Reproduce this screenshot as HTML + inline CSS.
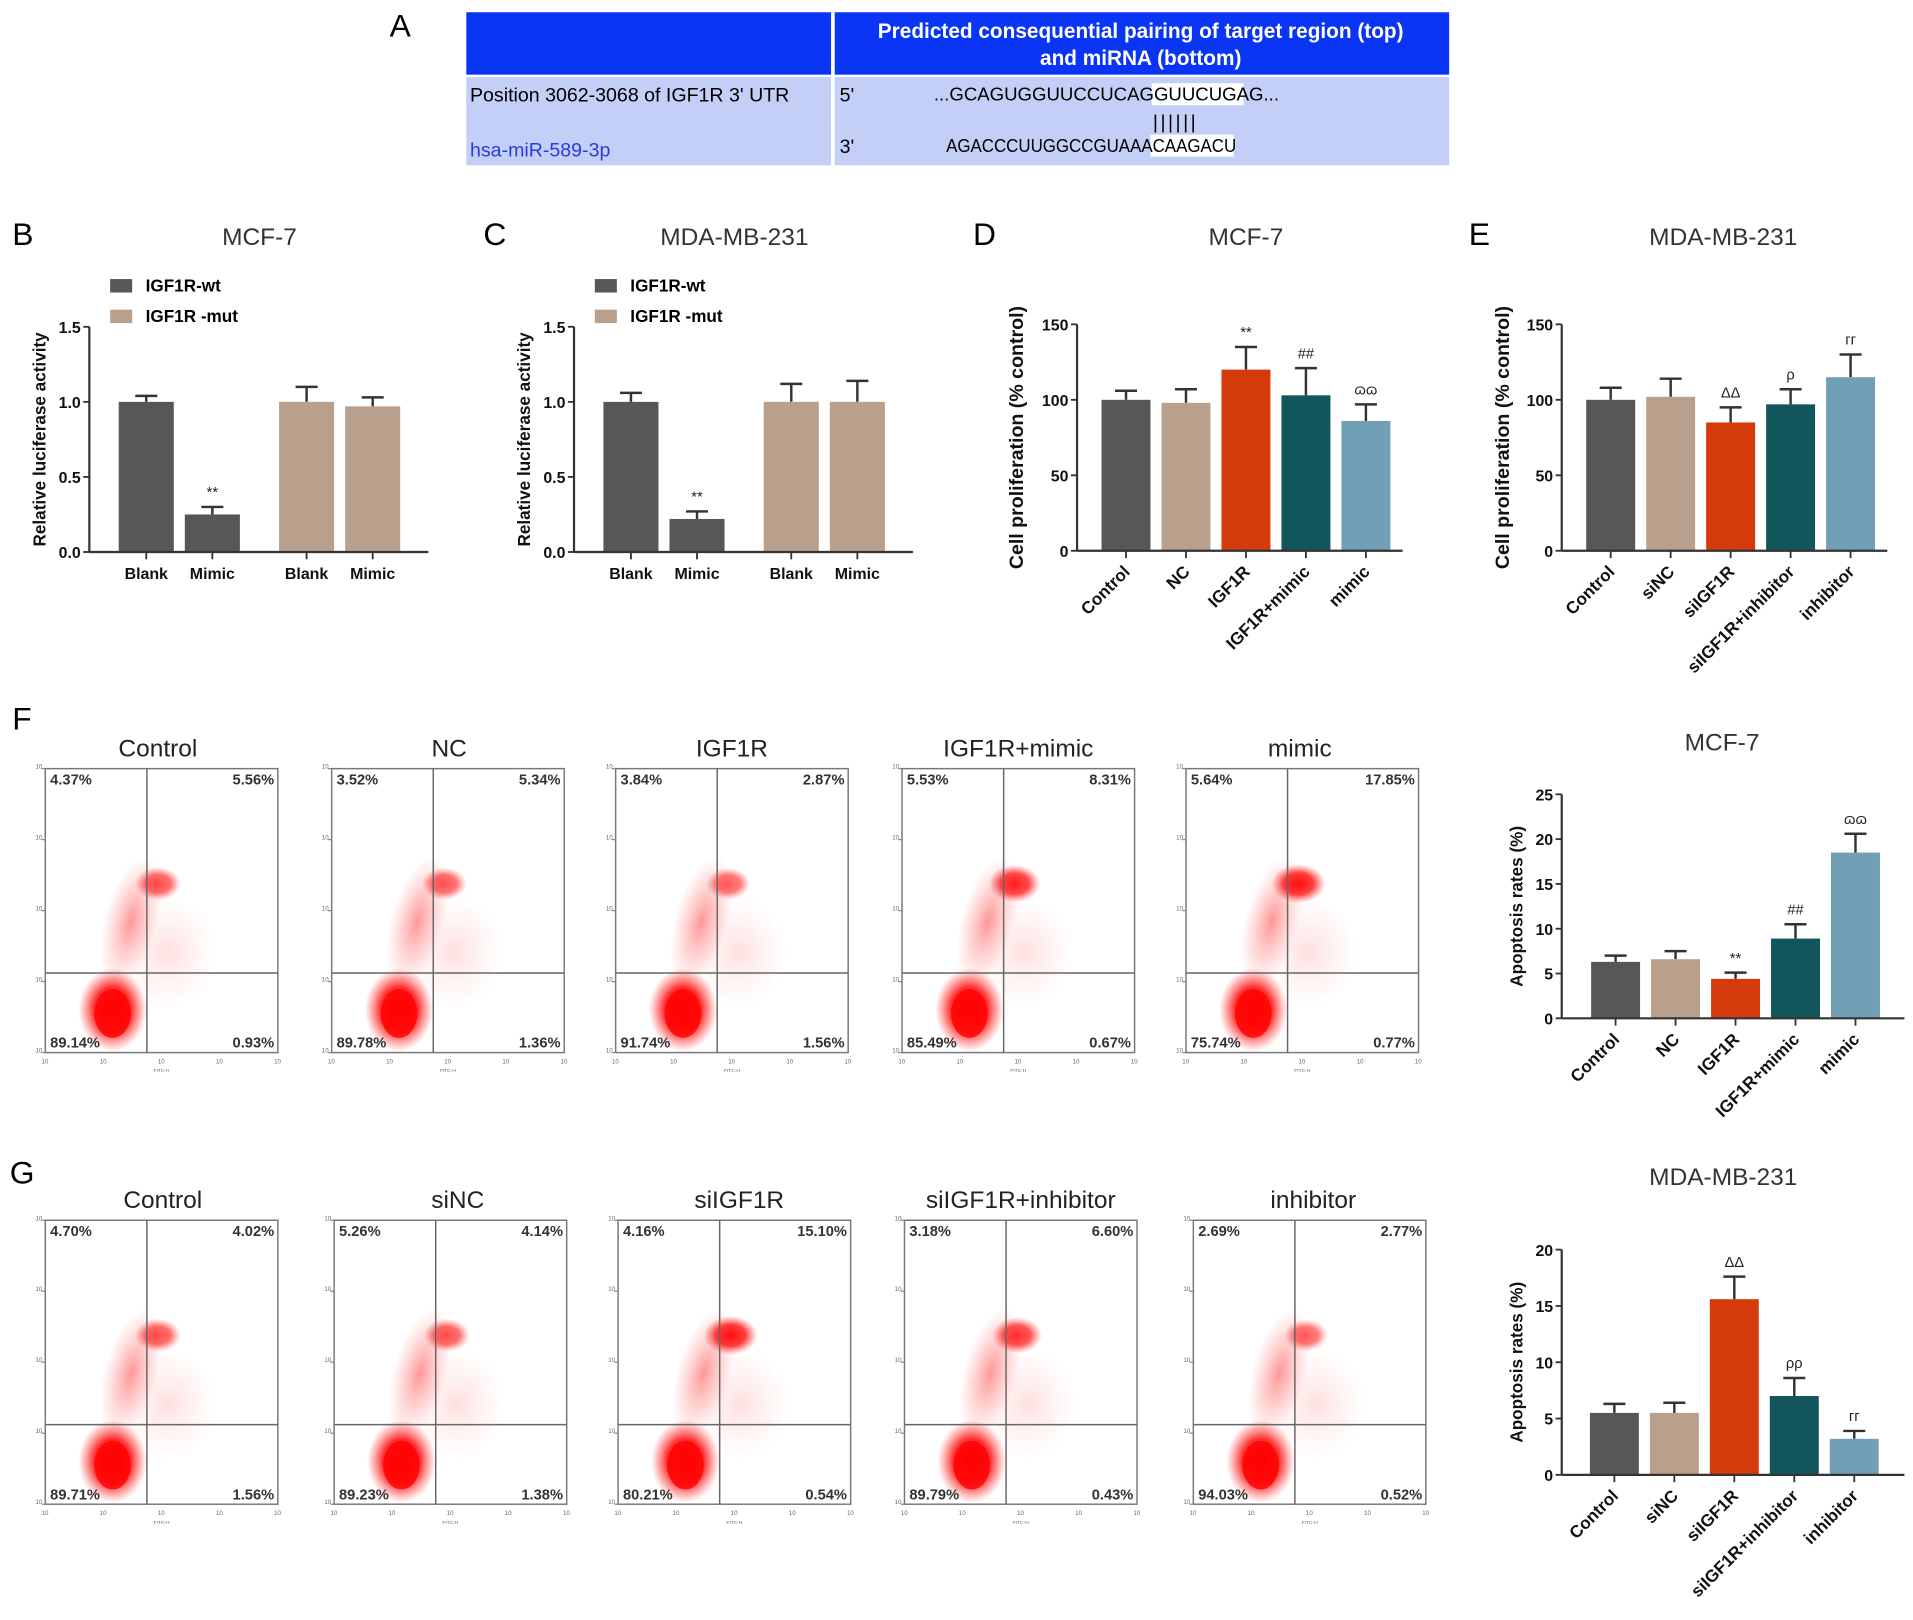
<!DOCTYPE html>
<html><head><meta charset="utf-8"><style>
html,body{margin:0;padding:0;background:#fff;}
svg{display:block;}
text{font-family:"Liberation Sans",Arial,sans-serif;}
</style></head><body>
<svg id="fig" xmlns="http://www.w3.org/2000/svg" width="1913" height="1620" viewBox="0 0 1563 1323.6">
<defs>
<radialGradient id="dotg"><stop offset="0" stop-color="#ff0000" stop-opacity="1"/><stop offset="0.55" stop-color="#ff1010" stop-opacity="0.85"/><stop offset="1" stop-color="#ff4040" stop-opacity="0"/></radialGradient>
<radialGradient id="dotl"><stop offset="0" stop-color="#ff3030" stop-opacity="0.5"/><stop offset="1" stop-color="#ff6060" stop-opacity="0"/></radialGradient>
</defs>
<g>
<text x="327" y="30" font-size="26" text-anchor="middle">A</text>
<rect x="381" y="10" width="803" height="51" fill="#0a35f5"/>
<rect x="381" y="63" width="803" height="72" fill="#c3cff7"/>
<rect x="679" y="10" width="3" height="125" fill="#fff"/>
<text x="932" y="31" font-size="17" font-weight="bold" fill="#fff" text-anchor="middle">Predicted consequential pairing of target region (top)</text>
<text x="932" y="53" font-size="17" font-weight="bold" fill="#fff" text-anchor="middle">and miRNA (bottom)</text>
<text x="384" y="83" font-size="16">Position 3062-3068 of IGF1R 3' UTR</text>
<text x="686" y="83" font-size="16">5'</text>
<rect x="941" y="68" width="75" height="18" fill="#fff"/>
<text x="763" y="82" font-size="15" font-family="Liberation Serif" textLength="282" lengthAdjust="spacingAndGlyphs">...GCAGUGGUUCCUCAGGUUCUGAG...</text>
<text x="942" y="105" font-size="16" letter-spacing="2">||||||</text>
<text x="384" y="128" font-size="16" fill="#2a3cdc">hsa-miR-589-3p</text>
<text x="686" y="125" font-size="16">3'</text>
<rect x="940" y="110" width="68" height="18" fill="#fff"/>
<text x="773" y="124" font-size="15" font-family="Liberation Serif" textLength="237" lengthAdjust="spacingAndGlyphs">AGACCCUUGGCCGUAAACAAGACU</text>
</g>
<g id="charts"></g>
</svg>
<script>
// ---- data ----
const lucCats = ["Blank","Mimic","Blank","Mimic"];
const lucB = [1.0,0.25,1.0,0.97];
const lucBErr = [1.04,0.30,1.10,1.03];
const lucC = [1.0,0.22,1.0,1.0];
const lucCErr = [1.06,0.27,1.12,1.14];
const lucTicks = ["0.0","0.5","1.0","1.5"];
const projD = ["Control","NC","IGF1R","IGF1R+mimic","mimic"];
const prolD = [100,98,120,103,86];
const prolDErr = [106,107,135,121,97];
const prolDAnn = ["","","**","##","ɷɷ"];
const projE = ["Control","siNC","siIGF1R","siIGF1R+inhibitor","inhibitor"];
const prolE = [100,102,85,97,115];
const prolEErr = [108,114,95,107,130];
const prolEAnn = ["","","ΔΔ","ρ","гг"];
const prolTicks = [0,50,100,150];
const apoF = [6.3,6.6,4.4,8.9,18.5];
const apoFErr = [7.0,7.5,5.1,10.5,20.6];
const apoFAnn = ["","","**","##","ɷɷ"];
const apoFTicks = [0,5,10,15,20,25];
const apoG = [5.5,5.5,15.6,7.0,3.2];
const apoGErr = [6.3,6.4,17.6,8.6,3.9];
const apoGAnn = ["","","ΔΔ","ρρ","гг"];
const apoGTicks = [0,5,10,15,20];
const flowF = [["4.37%","5.56%","89.14%","0.93%"],["3.52%","5.34%","89.78%","1.36%"],["3.84%","2.87%","91.74%","1.56%"],["5.53%","8.31%","85.49%","0.67%"],["5.64%","17.85%","75.74%","0.77%"]];
const flowG = [["4.70%","4.02%","89.71%","1.56%"],["5.26%","4.14%","89.23%","1.38%"],["4.16%","15.10%","80.21%","0.54%"],["3.18%","6.60%","89.79%","0.43%"],["2.69%","2.77%","94.03%","0.52%"]];
const flowGUpper = [0.6,0.6,1.0,0.8,0.5];
const flowFUpper = [0.6,0.55,0.5,0.9,1.0];

const NS="http://www.w3.org/2000/svg";
const root=document.getElementById('charts');
function el(tag,attrs,parent,txt){const e=document.createElementNS(NS,tag);for(const k in attrs)e.setAttribute(k,attrs[k]);if(txt!==undefined)e.textContent=txt;(parent||root).appendChild(e);return e;}
const colors5=["#575757","#b9a08d","#d43a0c","#11565a","#719fb5"];

function barChart(o){
  const g=el('g',{});
  
  
  const ys=v=>o.y0-(v/o.max)*(o.y0-o.y1);
  const t=el('text',{x:o.tx,y:o.ty,'font-size':20,'text-anchor':'middle',fill:'#333'},g,o.title);
  
  
  o.vals.forEach((v,i)=>{
    const cx=o.cx(i);
    const ey=ys(o.err[i]);
    el('line',{x1:cx,x2:cx,y1:ys(v),y2:ey,stroke:'#333','stroke-width':2},g);
    el('line',{x1:cx-9,x2:cx+9,y1:ey,y2:ey,stroke:'#333','stroke-width':2},g);
    const r=el('rect',{x:cx-o.bw/2,y:ys(v),width:o.bw,height:o.y0-ys(v),fill:o.col(i)},g);
    
    
    if(o.ann&&o.ann[i]){el('text',{x:cx,y:ey-8,'font-size':12,'text-anchor':'middle',fill:'#222'},g,o.ann[i]);}
    el('line',{x1:cx,x2:cx,y1:o.y0,y2:o.y0+6,stroke:'#333','stroke-width':1.5},g);
    if(o.rot){
      const lt=el('text',{x:cx+4,y:o.y0+18,'font-size':14,'font-weight':'bold','text-anchor':'end',transform:`rotate(-45 ${cx+4} ${o.y0+18})`,fill:'#111'},g,o.cats[i]);
      
      
    } else {
      el('text',{x:cx,y:o.y0+22,'font-size':13,'font-weight':'bold','text-anchor':'middle',fill:'#111'},g,o.cats[i]);
    }
  });
  el('line',{x1:o.x0,x2:o.x0,y1:o.y1,y2:o.y0,stroke:'#333','stroke-width':1.8},g);
  el('line',{x1:o.x0,x2:o.xe,y1:o.y0,y2:o.y0,stroke:'#333','stroke-width':1.8},g);
  o.ticks.forEach(tk=>{
    const v=parseFloat(tk),y=ys(v);
    el('line',{x1:o.x0-5,x2:o.x0,y1:y,y2:y,stroke:'#333','stroke-width':1.5},g);
    el('text',{x:o.x0-7,y:y+5,'font-size':13,'font-weight':'bold','text-anchor':'end',fill:'#111'},g,String(tk));
  });
  const yl=el('text',{x:o.ylx,y:(o.y0+o.y1)/2,'font-size':o.yls||15,'font-weight':'bold','text-anchor':'middle',transform:`rotate(-90 ${o.ylx} ${(o.y0+o.y1)/2})`,fill:'#111'},g,o.ylabel);
  
  
  return g;
}
function letter(x,y,s){const t=el('text',{x:x,y:y,'font-size':26},root,s);}
letter(10,200,'B');letter(395,200,'C');letter(795,200,'D');letter(1200,200,'E');letter(10,596,'F');letter(8,967,'G');

[[90],[486]].forEach(([lx])=>{
  const lg=el('g',{});
  
  
  el('rect',{x:lx,y:228,width:18,height:11,fill:'#575757'},lg);
  el('text',{x:lx+29,y:238,'font-size':14,'font-weight':'bold'},lg,'IGF1R-wt');
  el('rect',{x:lx,y:253,width:18,height:11,fill:'#b9a08d'},lg);
  el('text',{x:lx+29,y:263,'font-size':14,'font-weight':'bold'},lg,'IGF1R -mut');
});
const lucCol=i=>i<2?'#575757':'#b9a08d';
barChart({name:'chart-b-luciferase',title:'MCF-7',tx:212,ty:200,cats:lucCats,vals:lucB,err:lucBErr,x0:73,xe:350,y0:451,y1:267,max:1.5,bw:45,cx:i=>119.5+i*54+(i>=2?23:0),col:lucCol,ticks:lucTicks,ylabel:'Relative luciferase activity',ylx:37,yls:14,ann:["","**","",""]});
barChart({name:'chart-c-luciferase',title:'MDA-MB-231',tx:600,ty:200,cats:lucCats,vals:lucC,err:lucCErr,x0:469,xe:746,y0:451,y1:267,max:1.5,bw:45,cx:i=>515.5+i*54+(i>=2?23:0),col:lucCol,ticks:lucTicks,ylabel:'Relative luciferase activity',ylx:433,yls:14,ann:["","**","",""]});
barChart({name:'chart-d-proliferation',title:'MCF-7',tx:1018,ty:200,cats:projD,vals:prolD,err:prolDErr,ann:prolDAnn,x0:880,xe:1146,y0:450,y1:265,max:150,bw:40,cx:i=>920+i*49,col:i=>colors5[i],ticks:prolTicks,ylabel:'Cell proliferation (% control)',ylx:836,rot:true,yls:16});
barChart({name:'chart-e-proliferation',title:'MDA-MB-231',tx:1408,ty:200,cats:projE,vals:prolE,err:prolEErr,ann:prolEAnn,x0:1276,xe:1542,y0:450,y1:265,max:150,bw:40,cx:i=>1316+i*49,col:i=>colors5[i],ticks:prolTicks,ylabel:'Cell proliferation (% control)',ylx:1233,rot:true,yls:16});
barChart({name:'chart-f-apoptosis',title:'MCF-7',tx:1407,ty:613,cats:projD,vals:apoF,err:apoFErr,ann:apoFAnn,x0:1276,xe:1556,y0:832,y1:649,max:25,bw:40,cx:i=>1320+i*49,col:i=>colors5[i],ticks:apoFTicks,ylabel:'Apoptosis rates (%)',ylx:1244,rot:true,yls:14});
barChart({name:'chart-g-apoptosis',title:'MDA-MB-231',tx:1408,ty:968,cats:projE,vals:apoG,err:apoGErr,ann:apoGAnn,x0:1276,xe:1556,y0:1205,y1:1021,max:20,bw:40,cx:i=>1319+i*49,col:i=>colors5[i],ticks:apoGTicks,ylabel:'Apoptosis rates (%)',ylx:1244,rot:true,yls:14});

function flow(bx,by,title,tcx,pct,upper,name){
  const g=el('g',{});
  
  
  const w=190,h=232;
  const tt=el('text',{x:tcx,y:by-10,'font-size':20,'text-anchor':'middle',fill:'#222'},g,title);
  
  
  const qx=bx+83,qy=by+167;
  el('ellipse',{cx:bx+70,cy:by+125,rx:22,ry:55,fill:'url(#dotl)',transform:`rotate(15 ${bx+70} ${by+125})`},g);
  el('ellipse',{cx:bx+100,cy:by+150,rx:40,ry:45,fill:'url(#dotl)',opacity:0.3},g);
  el('ellipse',{cx:bx+92,cy:by+94,rx:14+8*upper,ry:10+6*upper,fill:'url(#dotg)',opacity:0.35+0.6*upper},g);
  el('ellipse',{cx:bx+55,cy:by+197,rx:28,ry:34,fill:'url(#dotg)'},g);
  el('ellipse',{cx:bx+55,cy:by+200,rx:15,ry:20,fill:'#ff0000',opacity:0.8},g);
  el('rect',{x:bx,y:by,width:w,height:h,fill:'none',stroke:'#777','stroke-width':1.2},g);
  el('line',{x1:qx,x2:qx,y1:by,y2:by+h,stroke:'#666','stroke-width':1.2},g);
  el('line',{x1:bx,x2:bx+w,y1:qy,y2:qy,stroke:'#666','stroke-width':1.2},g);
  for(let k=0;k<5;k++){const y=by+h-k*h/4;el('line',{x1:bx-3,x2:bx,y1:y,y2:y,stroke:'#888'},g);el('text',{x:bx-8,y:y,'font-size':5,fill:'#666'},g,'10');
    const x=bx+k*w/4;el('text',{x:x-3,y:by+h+9,'font-size':5,fill:'#666'},g,'10');}
  el('text',{x:bx+w/2,y:by+h+16,'font-size':4,'text-anchor':'middle',fill:'#666'},g,'FITC-H');
  const fs=12;
  el('text',{x:bx+4,y:by+13,'font-size':fs,'font-weight':600,fill:'#333'},g,pct[0]);
  el('text',{x:bx+w-3,y:by+13,'font-size':fs,'font-weight':600,'text-anchor':'end',fill:'#333'},g,pct[1]);
  el('text',{x:bx+4,y:by+h-4,'font-size':fs,'font-weight':600,fill:'#333'},g,pct[2]);
  el('text',{x:bx+w-3,y:by+h-4,'font-size':fs,'font-weight':600,'text-anchor':'end',fill:'#333'},g,pct[3]);
}
const fT=["Control","NC","IGF1R","IGF1R+mimic","mimic"],fX=[37,271,503,737,969],fC=[129,367,598,832,1062];
const gT=["Control","siNC","siIGF1R","siIGF1R+inhibitor","inhibitor"],gX=[37,273,505,739,975],gC=[133,374,604,834,1073];
fT.forEach((t,i)=>flow(fX[i],628,t,fC[i],flowF[i],flowFUpper[i],'flow-f-'+i));
gT.forEach((t,i)=>flow(gX[i],997,t,gC[i],flowG[i],flowGUpper[i],'flow-g-'+i));
</script>
</body></html>
